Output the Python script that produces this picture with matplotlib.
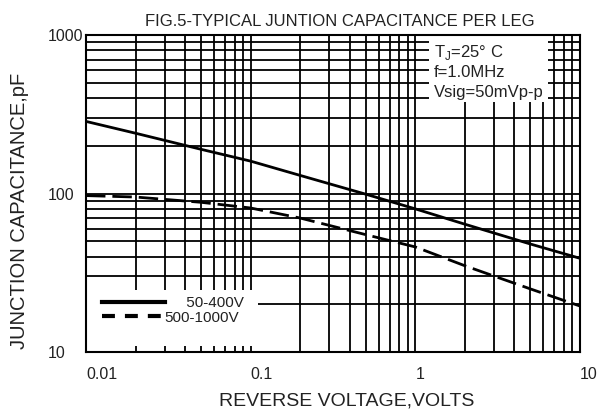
import matplotlib
matplotlib.use('Agg')
import matplotlib.pyplot as plt  # plotting
from matplotlib.lines import Line2D
from matplotlib.patches import Rectangle
from matplotlib.ticker import NullFormatter

plt.rcParams['font.family'] = ['Liberation Sans', 'DejaVu Sans']

# data
volts = [0.01, 0.02, 0.05, 0.1, 0.2, 0.5, 1, 2, 5, 10]
cap_50_400 = [285, 240, 190, 160, 130, 99, 80, 64, 48, 39]
cap_500_1000 = [97, 95, 88, 81, 70, 55, 46, 35, 25, 19.5]

series_labels = ['50-400V', '500-1000V']
xtick_vals = [0.01, 0.1, 1, 10]
xtick_text = ['0.01', '0.1', '1', '10']
ytick_vals = [10, 100, 1000]
ytick_text = ['10', '100', '1000']
cond_text = [r'T$_\mathregular{J}$=25° C', 'f=1.0MHz', 'Vsig=50mVp-p']

txt = '#222222'

fig = plt.figure(figsize=(5.97, 4.13), dpi=100)
ax = fig.add_axes([86 / 597, 1 - 352 / 413, 494 / 597, 317 / 413])
ax.set_xscale('log')
ax.set_yscale('log')
ax.set_xlim(0.01, 10)
ax.set_ylim(10, 1000)

# heavy grid on every decade step
ax.grid(True, which='both', color='black', lw=1.3)
for s in ax.spines.values():
    s.set_linewidth(1.5)
    s.set_zorder(5)

ax.set_xticks(xtick_vals, labels=xtick_text)
ax.set_yticks(ytick_vals, labels=ytick_text)
ax.xaxis.set_minor_formatter(NullFormatter())
ax.yaxis.set_minor_formatter(NullFormatter())
ax.tick_params(which='both', length=0)
ax.tick_params(axis='x', pad=11, labelsize=11.5, labelcolor=txt)
ax.tick_params(axis='y', pad=27.4, labelsize=11.5, labelcolor=txt)
for lab in ax.get_xticklabels():
    lab.set_horizontalalignment('left')
for lab in ax.get_yticklabels():
    lab.set_horizontalalignment('left')

# the curves
ax.plot(volts, cap_50_400, color='black', lw=2, zorder=3)
ax.plot(volts, cap_500_1000, color='black', lw=2, dashes=[7, 2.5], zorder=3)

# white boxes hiding the grid behind the notes and the legend
ax.add_patch(Rectangle((0.694, 0.789), 0.241, 0.211, transform=ax.transAxes,
                       facecolor='white', edgecolor='none', zorder=2))
ax.add_patch(Rectangle((0.0, 0.019), 0.348, 0.177, transform=ax.transAxes,
                       facecolor='white', edgecolor='none', zorder=2))

ys = [0.946, 0.883, 0.820]
for t, yy in zip(cond_text, ys):
    ax.text(0.7045, yy, t, transform=ax.transAxes, ha='left', va='center',
            fontsize=12, color=txt, zorder=4)

handles = [Line2D([], [], color='black', lw=3),
           Line2D([], [], color='black', lw=3, dashes=[3.1, 2.4])]
leg = ax.legend(handles, ['     ' + series_labels[0], series_labels[1]],
                loc='upper left', bbox_to_anchor=((102 - 86) / 494, (352 - 296) / 317),
                frameon=False, fontsize=11, handlelength=4.1, handletextpad=0,
                borderpad=0, borderaxespad=0, labelspacing=0.05, labelcolor=txt)
leg.set_zorder(4)

ax.set_xlabel('REVERSE VOLTAGE,VOLTS', fontsize=14, color=txt)
ax.xaxis.set_label_coords(0.528, -0.127)
ax.set_ylabel('JUNCTION CAPACITANCE,pF', fontsize=14.5, color=txt)
ax.yaxis.set_label_coords(-0.115, 0.445)

ax.text(0.514, 1.044, 'FIG.5-TYPICAL JUNTION CAPACITANCE PER LEG',
        transform=ax.transAxes, ha='center', va='center', fontsize=12, color=txt)

fig.savefig('out.png', dpi=100)
